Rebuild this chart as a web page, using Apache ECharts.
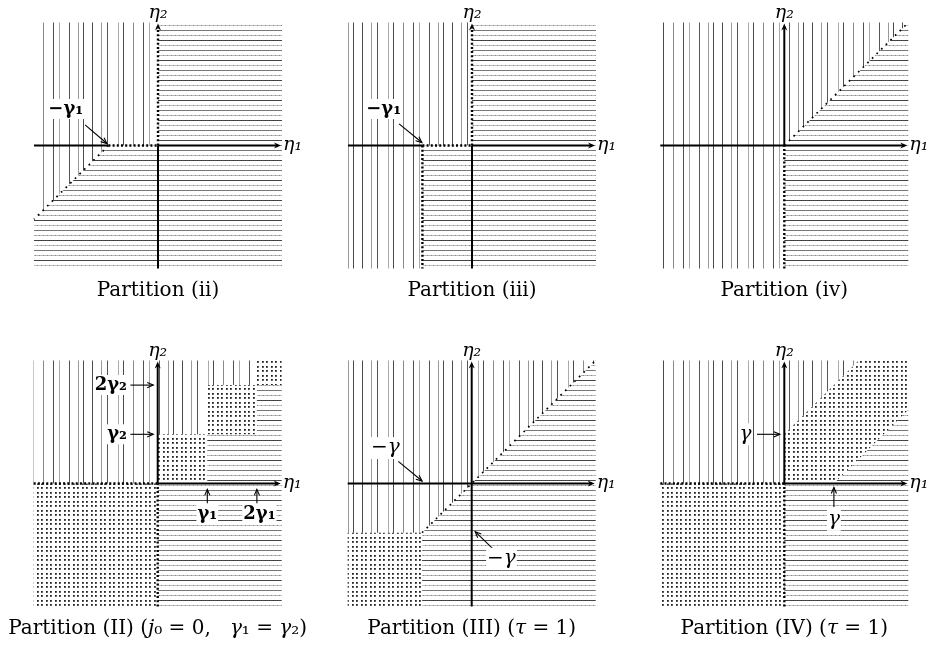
<!DOCTYPE html>
<html><head><meta charset="utf-8">
<script src="https://cdn.jsdelivr.net/npm/echarts@6/dist/echarts.min.js"></script>
<style>html,body{margin:0;padding:0;background:#fff}#c{width:930px;height:649px}</style>
</head><body><div id="c"></div>
<script>
// ===== DATA (coordinates in units of gamma; gamma1 = gamma2 = gamma = 1) =====
const axisMin = -2.5, axisMax = 2.5;
const panelTitles = [
  'Partition (ii)', 'Partition (iii)', 'Partition (iv)',
  'Partition (II) ({i|j}₀ = 0,   {i|γ}₁ = {i|γ}₂)', 'Partition (III) ({i|τ} = 1)', 'Partition (IV) ({i|τ} = 1)'
];

// --- Partition (ii) ---
const ii_vert   = [[[-2.5,2.5],[0,2.5],[0,0],[-1,0],[-2.5,-1.5]]];
const ii_horz   = [[[-2.5,-1.5],[-1,0],[0,0],[0,2.5],[2.5,2.5],[2.5,-2.5],[-2.5,-2.5]]];
const ii_dots   = [];
const ii_solid  = [[-2.5,0,-1,0,0],[0,0,2.42,0,1],[0,-2.5,0,0,0]];
const ii_dotted = [[-1,0,0,0,0],[0,0,0,2.42,1]];
const ii_sparse = [[-1,0,-2.5,-1.5,0]];
const ii_labels = [[-1.86,0.74,'−γ₁','bold','center']];
const ii_pointers = [[-1.47,0.42,-1.03,0.04]];

// --- Partition (iii) ---
const iii_vert   = [[[-2.5,-2.5],[-1,-2.5],[-1,0],[0,0],[0,2.5],[-2.5,2.5]]];
const iii_horz   = [[[-1,-2.5],[2.5,-2.5],[2.5,2.5],[0,2.5],[0,0],[-1,0]]];
const iii_dots   = [];
const iii_solid  = [[-2.5,0,-1,0,0],[0,0,2.42,0,1],[0,-2.5,0,0,0]];
const iii_dotted = [[-1,0,0,0,0],[0,0,0,2.42,1],[-1,0,-1,-2.5,0]];
const iii_sparse = [];
const iii_labels = [[-1.78,0.74,'−γ₁','bold','center']];
const iii_pointers = [[-1.47,0.44,-1.01,0.06]];

// --- Partition (iv) ---
const iv_vert   = [[[-2.5,-2.5],[0,-2.5],[0,0],[2.5,2.5],[-2.5,2.5]]];
const iv_horz   = [[[0,-2.5],[2.5,-2.5],[2.5,2.5],[0,0]]];
const iv_dots   = [];
const iv_solid  = [[-2.5,0,2.42,0,1],[0,0,0,2.42,1]];
const iv_dotted = [[0,-2.5,0,0,0]];
const iv_sparse = [[0,0,2.5,2.5,0]];
const iv_labels = [];
const iv_pointers = [];

// --- Partition (II) ---
const II_vert   = [[[-2.5,0],[0,0],[0,1],[1,1],[1,2],[2,2],[2,2.5],[-2.5,2.5]]];
const II_horz   = [[[0,-2.5],[2.5,-2.5],[2.5,2],[2,2],[2,1],[1,1],[1,0],[0,0]]];
const II_dots   = [[[-2.5,-2.5],[0,-2.5],[0,0],[-2.5,0]],
                   [[0,0],[1,0],[1,1],[0,1]],
                   [[1,1],[2,1],[2,2],[1,2]],
                   [[2,2],[2.5,2],[2.5,2.5],[2,2.5]]];
const II_solid  = [[0,0,2.42,0,1],[0,0,0,2.42,1]];
const II_dotted = [[-2.5,0,0,0,0],[0,-2.5,0,0,0]];
const II_sparse = [];
const II_labels = [[-0.6,2,'2γ₂','bold','right'],[-0.6,1,'γ₂','bold','right'],
                   [1,-0.62,'γ₁','bold','center'],[2.05,-0.62,'2γ₁','bold','center']];
const II_pointers = [[-0.55,2,-0.09,2],[-0.55,1,-0.09,1],[1,-0.4,1,-0.12],[2,-0.4,2,-0.12]];

// --- Partition (III) ---
const III_vert   = [[[-2.5,-1],[-1,-1],[2.5,2.5],[-2.5,2.5]]];
const III_horz   = [[[-1,-2.5],[2.5,-2.5],[2.5,2.5],[-1,-1]]];
const III_dots   = [[[-2.5,-2.5],[-1,-2.5],[-1,-1],[-2.5,-1]]];
const III_solid  = [[-2.5,0,2.42,0,1],[0,-2.5,0,2.42,1]];
const III_dotted = [];
const III_sparse = [[-1,-1,2.5,2.5,0]];
const III_labels = [[-1.74,0.72,'−γ','normal','center'],[0.6,-1.53,'−γ','normal','center']];
const III_pointers = [[-1.48,0.45,-1.0,0.05],[0.43,-1.33,0.07,-0.98]];

// --- Partition (IV) ---
const IV_vert   = [[[-2.5,0],[0,0],[0,1],[1.5,2.5],[-2.5,2.5]]];
const IV_horz   = [[[0,-2.5],[2.5,-2.5],[2.5,1.5],[1,0],[0,0]]];
const IV_dots   = [[[-2.5,-2.5],[0,-2.5],[0,0],[-2.5,0]],
                   [[0,0],[1,0],[2.5,1.5],[2.5,2.5],[1.5,2.5],[0,1]]];
const IV_solid  = [[0,0,2.42,0,1],[0,0,0,2.42,1]];
const IV_dotted = [[-2.5,0,0,0,0],[0,-2.5,0,0,0]];
const IV_sparse = [];
const IV_labels = [[-0.64,1,'γ','normal','right'],[1,-0.74,'γ','normal','center']];
const IV_pointers = [[-0.55,1,-0.09,1],[1,-0.48,1,-0.08]];

// axis-name positions [η1-label x, η2-label y]
const axisNamePos = [2.52, 2.69];

// ===== hatch tiles (style only) =====
function makeTile(w, h, draw) {
  const c = document.createElement('canvas'); c.width = w; c.height = h;
  draw(c.getContext('2d')); return c;
}
const tiles = {
  vert: makeTile(90, 4, g => {
    [[2,'#4a4a4a'],[11,'#9a9a9a'],[17,'#555'],[28,'#aaa'],[33,'#4a4a4a'],[43,'#8a8a8a'],[53,'#505050'],[59,'#aaa'],[69,'#555'],[78,'#999'],[83,'#4a4a4a']]
      .forEach(([x, c]) => { g.fillStyle = c; g.fillRect(x, 0, 1, 4); });
  }),
  horz: makeTile(8, 20, g => {
    g.fillStyle = '#444'; g.fillRect(0, 0, 8, 1);
    g.fillStyle = '#c4c4c4'; g.fillRect(0, 5, 8, 1); g.fillStyle = '#888'; g.fillRect(1, 5, 1, 1); g.fillRect(5, 5, 1, 1);
    g.fillStyle = '#777'; g.fillRect(0, 10, 8, 1);
    g.fillStyle = '#bbb'; g.fillRect(0, 15, 8, 1); g.fillStyle = '#888'; g.fillRect(3, 15, 1, 1); g.fillRect(7, 15, 1, 1);
  }),
  dots: makeTile(9, 9, g => {
    g.fillStyle = '#222';
    [[0,0],[4,0],[0,5],[4,5]].forEach(([x, y]) => g.fillRect(x + 1, y + 1, 1.8, 1.8));
  })
};

const panelData = [
  [ii_vert, ii_horz, ii_dots, ii_solid, ii_dotted, ii_sparse, ii_labels, ii_pointers],
  [iii_vert, iii_horz, iii_dots, iii_solid, iii_dotted, iii_sparse, iii_labels, iii_pointers],
  [iv_vert, iv_horz, iv_dots, iv_solid, iv_dotted, iv_sparse, iv_labels, iv_pointers],
  [II_vert, II_horz, II_dots, II_solid, II_dotted, II_sparse, II_labels, II_pointers],
  [III_vert, III_horz, III_dots, III_solid, III_dotted, III_sparse, III_labels, III_pointers],
  [IV_vert, IV_horz, IV_dots, IV_solid, IV_dotted, IV_sparse, IV_labels, IV_pointers]
];

// ===== layout =====
const gridPos = [
  {left: 34, top: 22.5}, {left: 348, top: 22.5}, {left: 660.3, top: 22.5},
  {left: 33.7, top: 360.5}, {left: 347.7, top: 360.5}, {left: 660.3, top: 360.5}
];
const GW = 248, GH = 246;
const titleTop = [281, 281, 281, 619, 619, 619];

function buildElems(d) {
  const [vert, horz, dots, solid, dotted, sparse, labels, pointers] = d;
  const el = [];
  vert.forEach(p => el.push({kind: 'region', fill: 'vert', pts: p}));
  horz.forEach(p => el.push({kind: 'region', fill: 'horz', pts: p}));
  dots.forEach(p => el.push({kind: 'region', fill: 'dots', pts: p}));
  sparse.forEach(s => el.push({kind: 'seg', style: 'sparse', v: s}));
  dotted.forEach(s => el.push({kind: 'seg', style: 'dotted', v: s}));
  solid.forEach(s => el.push({kind: 'seg', style: 'solid', v: s}));
  pointers.forEach(p => el.push({kind: 'pointer', v: p}));
  labels.forEach(l => el.push({kind: 'label', v: l}));
  el.push({kind: 'name', text: 'η₁', v: [axisNamePos[0], 0], align: 'left'});
  el.push({kind: 'name', text: 'η₂', v: [0, axisNamePos[1]], align: 'center'});
  return el;
}

const FONT = '"DejaVu Serif", "Liberation Serif", serif';

function makeRender(elems) {
  return function (params, api) {
    const e = elems[params.dataIndex];
    if (e.kind === 'region') {
      return {type: 'polygon', silent: true,
        shape: {points: e.pts.map(p => api.coord(p))},
        style: {fill: {image: tiles[e.fill], repeat: 'repeat'}, stroke: null}};
    }
    if (e.kind === 'seg') {
      const a = api.coord([e.v[0], e.v[1]]), b = api.coord([e.v[2], e.v[3]]);
      const st = e.style === 'solid' ? {stroke: '#000', lineWidth: 2}
        : e.style === 'dotted' ? {stroke: '#000', lineWidth: 2.4, lineDash: [2, 2.2]}
        : {stroke: '#000', lineWidth: 1.7, lineDash: [1.7, 4.8]};
      const children = [{type: 'line', shape: {x1: a[0], y1: a[1], x2: b[0], y2: b[1]}, style: st}];
      if (e.v[4]) {
        const dx = b[0] - a[0], dy = b[1] - a[1], L = Math.hypot(dx, dy), ux = dx / L, uy = dy / L;
        const tip = [b[0] + ux * 3, b[1] + uy * 3], len = 7, hw = 3;
        children.push({type: 'polygon', shape: {points: [
          tip,
          [tip[0] - ux * len - uy * hw, tip[1] - uy * len + ux * hw],
          [tip[0] - ux * len * 0.7, tip[1] - uy * len * 0.7],
          [tip[0] - ux * len + uy * hw, tip[1] - uy * len - ux * hw]
        ]}, style: {fill: '#000'}});
      }
      return {type: 'group', children};
    }
    if (e.kind === 'pointer') {
      const a = api.coord([e.v[0], e.v[1]]), b = api.coord([e.v[2], e.v[3]]);
      const dx = b[0] - a[0], dy = b[1] - a[1], L = Math.hypot(dx, dy), ux = dx / L, uy = dy / L;
      const len = 6, hw = 2.6;
      return {type: 'group', children: [
        {type: 'line', shape: {x1: a[0], y1: a[1], x2: b[0], y2: b[1]}, style: {stroke: '#000', lineWidth: 1.1}},
        {type: 'polyline', shape: {points: [
          [b[0] - ux * len - uy * hw, b[1] - uy * len + ux * hw], b,
          [b[0] - ux * len + uy * hw, b[1] - uy * len - ux * hw]]},
          style: {stroke: '#000', lineWidth: 1.1, fill: null}}
      ]};
    }
    if (e.kind === 'label') {
      const p = api.coord([e.v[0], e.v[1]]);
      const bold = e.v[3] === 'bold';
      return {type: 'text', x: p[0], y: p[1], style: {
        text: e.v[2], fill: '#000',
        font: (bold ? '600 18px ' : 'italic 20px ') + FONT,
        align: e.v[4], verticalAlign: 'middle',
        backgroundColor: '#fff', padding: [1, 1]
      }};
    }
    if (e.kind === 'name') {
      const p = api.coord(e.v);
      return {type: 'text', x: p[0], y: p[1], style: {
        text: e.text, fill: '#000', font: 'italic 19px ' + FONT,
        align: e.align, verticalAlign: 'middle'
      }};
    }
    return null;
  };
}

const option = {
  animation: false,
  backgroundColor: '#fff',
  title: panelTitles.map((t, i) => ({
    text: t, left: gridPos[i].left + GW / 2, top: titleTop[i], textAlign: 'center', padding: 0,
    textStyle: {fontFamily: FONT, fontWeight: 'normal', fontSize: 20, color: '#000',
      rich: {i: {fontFamily: FONT, fontStyle: 'italic', fontSize: 20, color: '#000'}}}
  })),
  grid: gridPos.map(g => ({left: g.left, top: g.top, width: GW, height: GH})),
  xAxis: gridPos.map((g, i) => ({type: 'value', gridIndex: i, min: axisMin, max: axisMax, show: false})),
  yAxis: gridPos.map((g, i) => ({type: 'value', gridIndex: i, min: axisMin, max: axisMax, show: false})),
  series: panelData.map((d, i) => {
    const elems = buildElems(d);
    return {type: 'custom', xAxisIndex: i, yAxisIndex: i, clip: false, silent: true,
      renderItem: makeRender(elems), data: elems.map((_, k) => [0, 0, k])};
  })
};
const chart = echarts.init(document.getElementById('c'));
chart.setOption(option);
</script></body></html>
